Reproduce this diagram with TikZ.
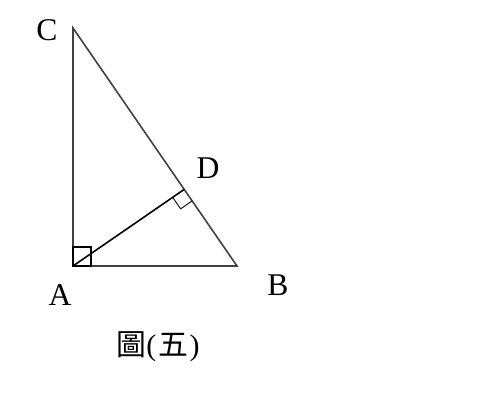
\documentclass[tikz,border=0pt]{standalone}
\usepackage{fontspec}
\setmainfont{Liberation Serif}
\newfontfamily\cjk{Noto Sans CJK TC}
\usepackage{tikz}
\usetikzlibrary{calc,positioning}

\begin{document}
\begin{tikzpicture}[x=0.02cm, y=-0.02cm,
  side/.style={draw=black!75, line width=0.9pt},
  vlabel/.style={font=\fontsize{18}{20}\selectfont, inner sep=0pt}]
\useasboundingbox (0,0) rectangle (480,400);
%Vertices
\coordinate (A) at (73,266);
\coordinate (B) at (237,266);
\coordinate (C) at (73,28);
\coordinate (D) at ($(B)!(A)!(C)$);
%Triangle and altitude
\draw[side] (A) -- (B) -- (C) -- cycle;
\draw[side, draw=black] (A) -- (D);
%Right angles
\draw[black, line width=1.1pt] (A) rectangle ++(18,-19);
\coordinate (da) at ($(D)!0.28cm!(A)$);
\coordinate (db) at ($(D)!0.28cm!(B)$);
\draw[black, line width=0.5pt] (da) -- ($(da)+(db)-(D)$) -- (db);
%Labels
\node[vlabel] (lC) at (47,30) {C};
\node[vlabel] (lD) at (208,168) {D};
\node[vlabel] (lA) at (60,295) {A};
\node[vlabel] (lB) at (278,285) {B};
\node[font=\fontsize{17}{20}\selectfont, inner sep=0pt] (cap) at (158,347) {{\cjk 圖}(\kern1pt{\cjk 五}\kern1pt)};
\end{tikzpicture}
\end{document}
